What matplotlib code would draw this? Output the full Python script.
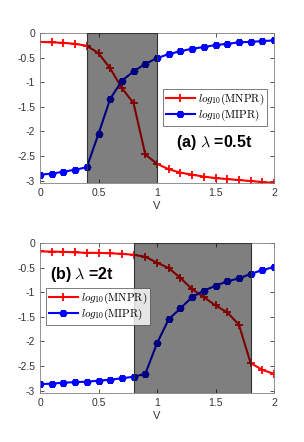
#!/usr/bin/env python3
"""
Two panels: log10 MNPR / MIPR versus V, with the mixed region shaded.
"""

import matplotlib
matplotlib.use('Agg')
import matplotlib.pyplot as plt
from matplotlib.patches import Rectangle

V = [round(0.1 * i, 1) for i in range(21)]

# panel (a), lambda = 0.5t
mnpr_a = [-0.18, -0.19, -0.20, -0.22, -0.26, -0.41, -0.72, -1.12, -1.43, -2.47, -2.66,
          -2.77, -2.84, -2.88, -2.92, -2.95, -2.97, -2.99, -3.01, -3.03, -3.05]
mipr_a = [-2.88, -2.86, -2.82, -2.78, -2.73, -2.05, -1.34, -0.97, -0.78, -0.63, -0.51,
          -0.43, -0.37, -0.32, -0.285, -0.245, -0.22, -0.19, -0.18, -0.165, -0.15]
shade_a = (0.4, 1.0)

# panel (b), lambda = 2t
mnpr_b = [-0.17, -0.175, -0.18, -0.19, -0.20, -0.20, -0.21, -0.22, -0.24, -0.28, -0.40,
          -0.51, -0.71, -0.94, -1.10, -1.27, -1.41, -1.66, -2.44, -2.58, -2.66]
mipr_b = [-2.87, -2.86, -2.84, -2.83, -2.82, -2.80, -2.78, -2.75, -2.72, -2.66, -2.04,
          -1.55, -1.33, -1.10, -0.97, -0.87, -0.78, -0.72, -0.63, -0.55, -0.49]
shade_b = (0.8, 1.8)

xticks = [0, 0.5, 1, 1.5, 2]
xticklabels = ['0', '0.5', '1', '1.5', '2']
yticks = [0, -0.5, -1, -1.5, -2, -2.5, -3]
yticklabels = ['0', '-0.5', '-1', '-1.5', '-2', '-2.5', '-3']

plt.rcParams['font.family'] = ['Liberation Sans', 'DejaVu Sans']
plt.rcParams['mathtext.fontset'] = 'cm'
plt.rcParams['axes.unicode_minus'] = False

W, H = 304, 442
fig = plt.figure(figsize=(W / 100, H / 100), dpi=100)

axis_gray = '#333333'


def panel(rect, mnpr, mipr, shade, label, leg_loc, txt_pos):
    ax = fig.add_axes(rect)
    ax.plot(V, mnpr, color='red', lw=1.5, marker='+', ms=6, mew=1.3,
            label=r'$log_{10}\mathrm{(MNPR)}$', zorder=2)
    ax.plot(V, mipr, color='blue', lw=1.5, marker=(6, 2, 0), ms=5, mew=2.5,
            label=r'$log_{10}\mathrm{(MIPR)}$', zorder=2)
    ax.add_patch(Rectangle((shade[0], -3.05), shade[1] - shade[0], 3.05,
                           facecolor='black', alpha=0.5, edgecolor='none', zorder=3))
    ax.add_patch(Rectangle((shade[0], -3.05), shade[1] - shade[0], 3.05,
                           facecolor='none', edgecolor='#333333', lw=0.8, zorder=3))
    ax.set_xlim(0, 2)
    ax.set_ylim(-3.05, 0)
    ax.set_xticks(xticks)
    ax.set_xticklabels(xticklabels)
    ax.set_yticks(yticks)
    ax.set_yticklabels(yticklabels)
    ax.tick_params(direction='in', length=3, width=0.6, labelsize=7.5,
                   colors=axis_gray, top=True, right=True, labeltop=False, labelright=False)
    for s in ax.spines.values():
        s.set_color('#808080')
        s.set_linewidth(0.6)
    ax.set_xlabel('V', fontsize=8, color=axis_gray, labelpad=2)
    leg = ax.legend(loc='upper left', bbox_to_anchor=leg_loc, fontsize=8,
                    frameon=True, fancybox=False, borderpad=0.25, handlelength=2.6,
                    handletextpad=0.3, labelspacing=0.1, borderaxespad=0)
    leg.get_frame().set_edgecolor('#404040')
    leg.get_frame().set_linewidth(0.6)
    leg.set_zorder(5)
    ax.text(txt_pos[0], txt_pos[1], label, transform=ax.transAxes, fontsize=11.5,
            fontweight='bold', ha='left', va='center', zorder=6)
    return ax


panel([40 / W, 1 - 183 / H, 234 / W, 150 / H], mnpr_a, mipr_a, shade_a,
      r'(a) $\lambda$ =0.5t', (123 / 234, 1 - 56 / 150), (136 / 234, 1 - 110 / 150))
panel([40 / W, 1 - 393 / H, 234 / W, 150 / H], mnpr_b, mipr_b, shade_b,
      r'(b) $\lambda$ =2t', (6 / 234, 1 - 45 / 150), (10 / 234, 1 - 31 / 150))

fig.savefig('out.png', dpi=100)
